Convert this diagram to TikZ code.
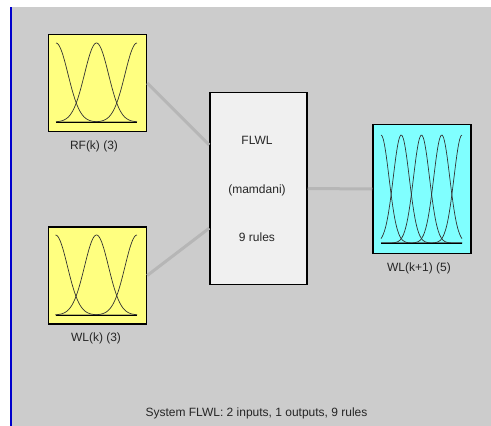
\documentclass[tikz,border=0pt]{standalone}
\usepackage{fontspec}
\setmainfont{Liberation Sans}
\usetikzlibrary{positioning, calc}
\definecolor{panelgrey}{HTML}{CCCCCC}
\definecolor{inyellow}{HTML}{FFFF80}
\definecolor{outcyan}{HTML}{80FFFF}
\definecolor{rulewhite}{HTML}{F0F0F0}
\definecolor{wiregrey}{HTML}{B6B6B6}
\definecolor{edgeblue}{HTML}{0000CC}

% gaussian membership curve: {xmin}{xmax}{centre}{sigma}{baseline}{height}
\newcommand{\gaussmf}[6]{%
  \draw[mfline] plot[domain=#1:#2, samples=70, smooth]
    (\x, {#5-#6*exp(-((\x-#3)^2)/(2*#4*#4))});}

\begin{document}
\begin{tikzpicture}[
        x=1pt, y=-1pt,
        font=\fontsize{12}{14}\selectfont,
        inbox/.style={draw=black, fill=inyellow, line width=1.5pt, inner sep=0pt,
                      minimum width=98pt, minimum height=97pt},
        outbox/.style={draw=black, fill=outcyan, line width=1.5pt, inner sep=0pt,
                       minimum width=98pt, minimum height=129pt},
        rulebox/.style={draw=black, fill=rulewhite, line width=1.5pt, inner sep=0pt,
                        minimum width=97pt, minimum height=192pt},
        boxlabel/.style={text=black!85, inner sep=1pt},
        wire/.style={draw=wiregrey, line width=3pt},
        mfline/.style={draw=black!80, line width=0.7pt},
        baseline/.style={draw=black, line width=0.8pt}
    ]
      % --- Panel ---
      \useasboundingbox (0,0) rectangle (491,426);
      \fill[white] (0,0) rectangle (491,426);
      \fill[panelgrey] (12,7) rectangle (491,426);
      \fill[edgeblue] (10,7) rectangle (12,426);

      % --- Input variables ---
      \node[inbox] (rf) at (97.5,83) {};
      \node[boxlabel] (rflab) at (94,146) {RF(k) (3)};

      \node[inbox] (wl) at (97.5,275.5) {};
      \node[boxlabel] (wllab) at (96,338) {WL(k) (3)};

      % --- Rule base ---
      \node[rulebox] (flwl) at (258.5,188.5) {};
      \node[boxlabel] (flwlname) at (257,140) {FLWL};
      \node[boxlabel] (flwltype) at (257,190) {(mamdani)};
      \node[boxlabel] (flwlrules) at (257,237) {9 rules};

      % --- Output variable ---
      \node[outbox] (wlout) at (422,189) {};
      \node[boxlabel] (wloutlab) at (419,268) {WL(k+1) (5)};

      % --- Connections ---
      \coordinate (flwlin1) at ($(flwl.north west)!0.275!(flwl.south west)$);
      \coordinate (flwlin2) at ($(flwl.north west)!0.705!(flwl.south west)$);
      \draw[wire] (rf.east) -- (flwlin1);
      \draw[wire] (wl.east) -- (flwlin2);
      \draw[wire] (flwl.east) -- (wlout.west);

      % --- Membership functions ---
      \foreach \c in {56,96.5,137} {\gaussmf{56}{137}{\c}{12}{122}{79}}
      \draw[baseline] (56,122) -- (137,122);

      \foreach \c in {55.5,96.5,137} {\gaussmf{55.5}{137}{\c}{12}{315}{80}}
      \draw[baseline] (55.5,315) -- (137,315);

      \foreach \c in {381,401.25,421.5,441.75,462} {\gaussmf{381}{462}{\c}{8}{243}{108}}
      \draw[baseline] (381,243) -- (462,243);

      % --- Summary ---
      \node[boxlabel] (summary) at (256.5,413) {System FLWL: 2 inputs, 1 outputs, 9 rules};
    \end{tikzpicture}
\end{document}
